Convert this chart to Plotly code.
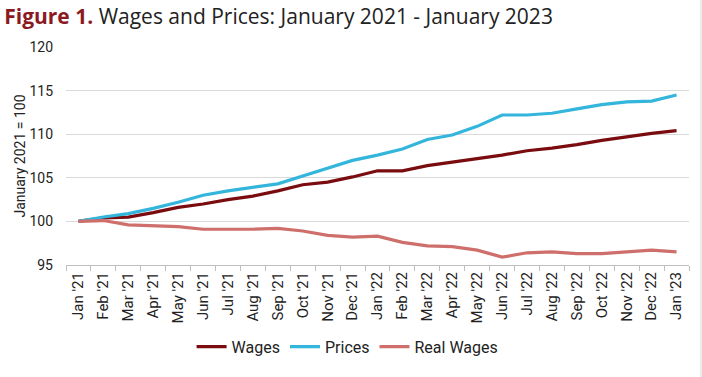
import plotly.graph_objects as go

months = ["Jan '21", "Feb '21", "Mar '21", "Apr '21", "May '21", "Jun '21", "Jul '21", "Aug '21",
          "Sep '21", "Oct '21", "Nov '21", "Dec '21", "Jan '22", "Feb '22", "Mar '22", "Apr '22",
          "May '22", "Jun '22", "Jul '22", "Aug '22", "Sep '22", "Oct '22", "Nov '22", "Dec '22", "Jan '23"]

wages = [100.0, 100.4, 100.5, 101.0, 101.6, 102.0, 102.5, 102.9, 103.5, 104.2, 104.5, 105.1,
         105.8, 105.8, 106.4, 106.8, 107.2, 107.6, 108.1, 108.4, 108.8, 109.3, 109.7, 110.1, 110.4]
prices = [100.0, 100.5, 100.9, 101.5, 102.2, 103.0, 103.5, 103.9, 104.3, 105.2, 106.1, 107.0,
          107.6, 108.3, 109.4, 109.9, 110.9, 112.2, 112.2, 112.4, 112.9, 113.4, 113.7, 113.8, 114.5]
real_wages = [100.0, 100.1, 99.6, 99.5, 99.4, 99.1, 99.1, 99.1, 99.2, 98.9, 98.4, 98.2,
              98.3, 97.6, 97.2, 97.1, 96.7, 95.9, 96.4, 96.5, 96.3, 96.3, 96.5, 96.7, 96.5]

y_ticks = [95, 100, 105, 110, 115, 120]

fig = go.Figure()
fig.add_trace(go.Scatter(x=months, y=wages, name="Wages", mode="lines",
                         line=dict(color="#7a0c10", width=3.2)))
fig.add_trace(go.Scatter(x=months, y=prices, name="Prices", mode="lines",
                         line=dict(color="#33b5dc", width=3.2)))
fig.add_trace(go.Scatter(x=months, y=real_wages, name="Real Wages", mode="lines",
                         line=dict(color="#cf6f6c", width=3.2)))

fig.add_shape(type="rect", xref="paper", yref="paper", x0=1.0175, x1=1.03, y0=-1, y1=2,
              fillcolor="#ececec", line=dict(width=0), layer="below")

fig.update_layout(
    width=702, height=377,
    margin=dict(l=66, r=13, t=47, b=112, autoexpand=False),
    paper_bgcolor="white", plot_bgcolor="white",
    font=dict(family="Roboto, sans-serif", color="#222", size=13),
    title=dict(
        text="<b><span style='color:#8b1a1f'>Figure 1.</span></b> Wages and Prices: January 2021 - January 2023",
        x=0.006, xanchor="left", y=1 - 17 / 377, yanchor="middle",
        font=dict(family="Open Sans", size=21, color="#222")),
    showlegend=True,
    legend=dict(orientation="h", x=0.452, xanchor="center", y=-0.375, yanchor="middle",
                font=dict(size=16, color="#222"), itemwidth=30, tracegroupgap=0),
    xaxis=dict(type="category", range=[-0.5, 24.5], tickangle=-90, automargin=False,
               showline=True, linecolor="#bfbfbf", linewidth=1,
               ticks="outside", tickson="boundaries", ticklen=5, tickcolor="#bfbfbf",
               showgrid=False, tickfont=dict(size=15, color="#222")),
    yaxis=dict(range=[95, 120], tickvals=y_ticks, showgrid=True, gridcolor="#d9d9d9",
               gridwidth=1, zeroline=False, showline=False, automargin=False,
               tickfont=dict(size=14, color="#222"), ticklabelstandoff=12,
               title=dict(text="January 2021 = 100", font=dict(size=14, color="#222"), standoff=0)),
)

fig.write_html("out.html", config={"displayModeBar": False},
               post_script="document.body.style.margin='0';document.body.style.padding='0';")
